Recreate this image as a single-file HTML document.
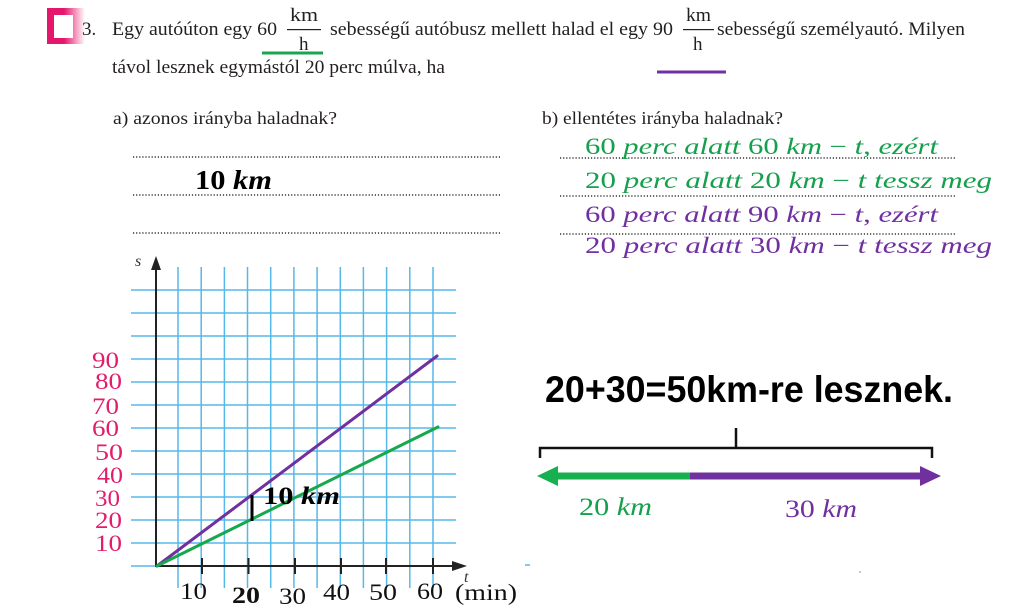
<!DOCTYPE html>
<html>
<head>
<meta charset="utf-8">
<style>
html,body{margin:0;padding:0;background:#ffffff;}
svg{display:block;}
.bk{font-family:"Liberation Serif",serif;fill:#231f20;}
.m{font-family:"Liberation Serif",serif;}
</style>
</head>
<body>
<svg width="1028" height="614" viewBox="0 0 1028 614" xmlns="http://www.w3.org/2000/svg">
<defs>
<linearGradient id="pf" x1="0" y1="0" x2="1" y2="0">
<stop offset="0" stop-color="#e5176c"/>
<stop offset="0.45" stop-color="#e5176c"/>
<stop offset="1" stop-color="#e5176c" stop-opacity="0"/>
</linearGradient>
</defs>
<rect x="0" y="0" width="1028" height="614" fill="#ffffff"/>

<!-- pink icon -->
<rect x="47" y="8" width="38" height="36" fill="url(#pf)"/>
<rect x="54" y="15" width="19" height="23" fill="#ffffff"/>

<!-- header text -->
<text class="bk" x="82" y="35" font-size="19">3.</text>
<text class="bk" x="112" y="35" font-size="19" textLength="165" lengthAdjust="spacingAndGlyphs">Egy autóúton egy 60</text>
<text class="bk" x="290" y="21" font-size="19" textLength="28" lengthAdjust="spacingAndGlyphs">km</text>
<rect x="287" y="29" width="34" height="1.2" fill="#231f20"/>
<text class="bk" x="299" y="50" font-size="19">h</text>
<rect x="262" y="51.5" width="61" height="3" fill="#1aa550"/>
<text class="bk" x="330" y="35" font-size="19" textLength="343" lengthAdjust="spacingAndGlyphs">sebességű autóbusz mellett halad el egy 90</text>
<text class="bk" x="686" y="21" font-size="19" textLength="25" lengthAdjust="spacingAndGlyphs">km</text>
<rect x="683" y="29" width="31" height="1.2" fill="#231f20"/>
<text class="bk" x="693" y="50" font-size="19">h</text>
<rect x="657" y="70.5" width="69" height="3" fill="#7030a0"/>
<text class="bk" x="717" y="35" font-size="19" textLength="248" lengthAdjust="spacingAndGlyphs">sebességű személyautó. Milyen</text>
<text class="bk" x="112" y="73" font-size="19" textLength="333" lengthAdjust="spacingAndGlyphs">távol lesznek egymástól 20 perc múlva, ha</text>
<text class="bk" x="113" y="124" font-size="18" textLength="224" lengthAdjust="spacingAndGlyphs">a) azonos irányba haladnak?</text>
<text class="bk" x="542" y="124" font-size="18" textLength="241" lengthAdjust="spacingAndGlyphs">b) ellentétes irányba haladnak?</text>

<!-- dotted lines -->
<g stroke="#333" stroke-width="1.6" stroke-dasharray="1.2 1.9" fill="none">
<line x1="133" y1="157" x2="500" y2="157"/>
<line x1="133" y1="195" x2="500" y2="195"/>
<line x1="133" y1="233" x2="500" y2="233"/>
<line x1="560" y1="158" x2="955" y2="158"/>
<line x1="560" y1="196" x2="955" y2="196"/>
<line x1="560" y1="234" x2="955" y2="234"/>
</g>

<!-- 10 km left -->
<text class="m" x="195" y="189" font-size="27" font-weight="bold" fill="#000" textLength="77" lengthAdjust="spacingAndGlyphs">10 <tspan font-style="italic">km</tspan></text>

<!-- right math lines -->
<text class="m" x="585" y="154" font-size="23" fill="#16a04e" textLength="353" lengthAdjust="spacingAndGlyphs">60 <tspan font-style="italic">perc alatt</tspan> 60 <tspan font-style="italic">km</tspan> − <tspan font-style="italic">t</tspan>, <tspan font-style="italic">ezért</tspan></text>
<text class="m" x="585" y="188" font-size="23" fill="#16a04e" textLength="407" lengthAdjust="spacingAndGlyphs">20 <tspan font-style="italic">perc alatt</tspan> 20 <tspan font-style="italic">km</tspan> − <tspan font-style="italic">t tessz meg</tspan></text>
<text class="m" x="585" y="222" font-size="23" fill="#7030a0" textLength="353" lengthAdjust="spacingAndGlyphs">60 <tspan font-style="italic">perc alatt</tspan> 90 <tspan font-style="italic">km</tspan> − <tspan font-style="italic">t</tspan>, <tspan font-style="italic">ezért</tspan></text>
<text class="m" x="585" y="253" font-size="23" fill="#7030a0" textLength="407" lengthAdjust="spacingAndGlyphs">20 <tspan font-style="italic">perc alatt</tspan> 30 <tspan font-style="italic">km</tspan> − <tspan font-style="italic">t tessz meg</tspan></text>

<!-- grid -->
<g stroke="#55b8e8" stroke-width="1.5">
<line x1="178" y1="267" x2="178" y2="588"/>
<line x1="201.2" y1="267" x2="201.2" y2="588"/>
<line x1="224.4" y1="267" x2="224.4" y2="588"/>
<line x1="247.5" y1="267" x2="247.5" y2="588"/>
<line x1="270.7" y1="267" x2="270.7" y2="588"/>
<line x1="293.9" y1="267" x2="293.9" y2="588"/>
<line x1="317.1" y1="267" x2="317.1" y2="588"/>
<line x1="340.3" y1="267" x2="340.3" y2="588"/>
<line x1="363.4" y1="267" x2="363.4" y2="588"/>
<line x1="386.6" y1="267" x2="386.6" y2="588"/>
<line x1="409.8" y1="267" x2="409.8" y2="588"/>
<line x1="433" y1="267" x2="433" y2="588"/>
<line x1="131" y1="290" x2="456" y2="290"/>
<line x1="131" y1="313" x2="456" y2="313"/>
<line x1="131" y1="336" x2="456" y2="336"/>
<line x1="131" y1="359" x2="456" y2="359"/>
<line x1="131" y1="382" x2="456" y2="382"/>
<line x1="131" y1="405" x2="456" y2="405"/>
<line x1="131" y1="428" x2="456" y2="428"/>
<line x1="131" y1="451" x2="456" y2="451"/>
<line x1="131" y1="474" x2="456" y2="474"/>
<line x1="131" y1="497" x2="456" y2="497"/>
<line x1="131" y1="520" x2="456" y2="520"/>
<line x1="131" y1="543" x2="456" y2="543"/>
<line x1="131" y1="566" x2="456" y2="566"/>
<line x1="525" y1="565" x2="530" y2="565"/>
</g>

<!-- axes -->
<g stroke="#222" stroke-width="2">
<line x1="156" y1="266" x2="156" y2="567"/>
<line x1="155" y1="566" x2="455" y2="566"/>
<line x1="202" y1="558" x2="202" y2="574"/>
<line x1="248.5" y1="558" x2="248.5" y2="574"/>
<line x1="295" y1="558" x2="295" y2="574"/>
<line x1="341" y1="558" x2="341" y2="574"/>
<line x1="386" y1="558" x2="386" y2="574"/>
<line x1="433" y1="558" x2="433" y2="574"/>
</g>
<polygon points="156,256 151,270 161,270" fill="#222"/>
<polygon points="467,566 452,561 452,571" fill="#222"/>
<text class="m" x="135" y="266" font-size="16" font-style="italic" fill="#333">s</text>
<text class="m" x="464" y="582" font-size="16" font-style="italic" fill="#333">t</text>

<!-- series -->
<line x1="157" y1="566" x2="437" y2="356" stroke="#7030a0" stroke-width="3" stroke-linecap="round"/>
<line x1="157" y1="566" x2="438" y2="427" stroke="#16a84a" stroke-width="3" stroke-linecap="round"/>

<!-- 10 km marker -->
<line x1="252" y1="495" x2="252" y2="521" stroke="#000" stroke-width="3"/>
<text class="m" x="263" y="504" font-size="25" font-weight="bold" fill="#000" textLength="77" lengthAdjust="spacingAndGlyphs">10 <tspan font-style="italic">km</tspan></text>

<!-- y labels -->
<g class="m" font-size="23" fill="#e31c6c">
<text x="92" y="368" textLength="27" lengthAdjust="spacingAndGlyphs">90</text>
<text x="95" y="389" textLength="27" lengthAdjust="spacingAndGlyphs">80</text>
<text x="92" y="414" textLength="27" lengthAdjust="spacingAndGlyphs">70</text>
<text x="92" y="436" textLength="27" lengthAdjust="spacingAndGlyphs">60</text>
<text x="95" y="460" textLength="28" lengthAdjust="spacingAndGlyphs">50</text>
<text x="97" y="483" textLength="26" lengthAdjust="spacingAndGlyphs">40</text>
<text x="95" y="506" textLength="25" lengthAdjust="spacingAndGlyphs">30</text>
<text x="95" y="528" textLength="27" lengthAdjust="spacingAndGlyphs">20</text>
<text x="95" y="551" textLength="27" lengthAdjust="spacingAndGlyphs">10</text>
</g>

<!-- x labels -->
<g class="m" font-size="23" fill="#111">
<text x="180" y="599" textLength="27" lengthAdjust="spacingAndGlyphs">10</text>
<text x="232" y="603" textLength="28" lengthAdjust="spacingAndGlyphs" font-weight="bold">20</text>
<text x="279" y="604" textLength="27" lengthAdjust="spacingAndGlyphs">30</text>
<text x="323" y="600" textLength="27" lengthAdjust="spacingAndGlyphs">40</text>
<text x="369" y="600" textLength="28" lengthAdjust="spacingAndGlyphs">50</text>
<text x="417" y="599" textLength="26" lengthAdjust="spacingAndGlyphs">60</text>
<text x="455" y="600" textLength="62" lengthAdjust="spacingAndGlyphs">(min)</text>
</g>

<!-- headline -->
<text x="545" y="402" font-family="'Liberation Sans',sans-serif" font-size="37" font-weight="bold" fill="#000" textLength="408" lengthAdjust="spacingAndGlyphs">20+30=50km-re lesznek.</text>

<!-- bracket -->
<g stroke="#111" stroke-width="2.5" fill="none">
<polyline points="540,458 540,448 932,448 932,458"/>
<line x1="736" y1="428" x2="736" y2="448"/>
</g>

<!-- arrows -->
<rect x="554" y="472.5" width="137" height="7" fill="#16b04e"/>
<polygon points="537,476 558,466 558,486" fill="#16b04e"/>
<rect x="690" y="472.5" width="233" height="7" fill="#7030a0"/>
<polygon points="941,476 920,466 920,486" fill="#7030a0"/>

<text class="m" x="579" y="515" font-size="25" fill="#16a04e" textLength="73" lengthAdjust="spacingAndGlyphs">20 <tspan font-style="italic">km</tspan></text>
<text class="m" x="785" y="517" font-size="25" fill="#7030a0" textLength="72" lengthAdjust="spacingAndGlyphs">30 <tspan font-style="italic">km</tspan></text>

<circle cx="860" cy="572" r="0.8" fill="#888"/>
</svg>
</body>
</html>
